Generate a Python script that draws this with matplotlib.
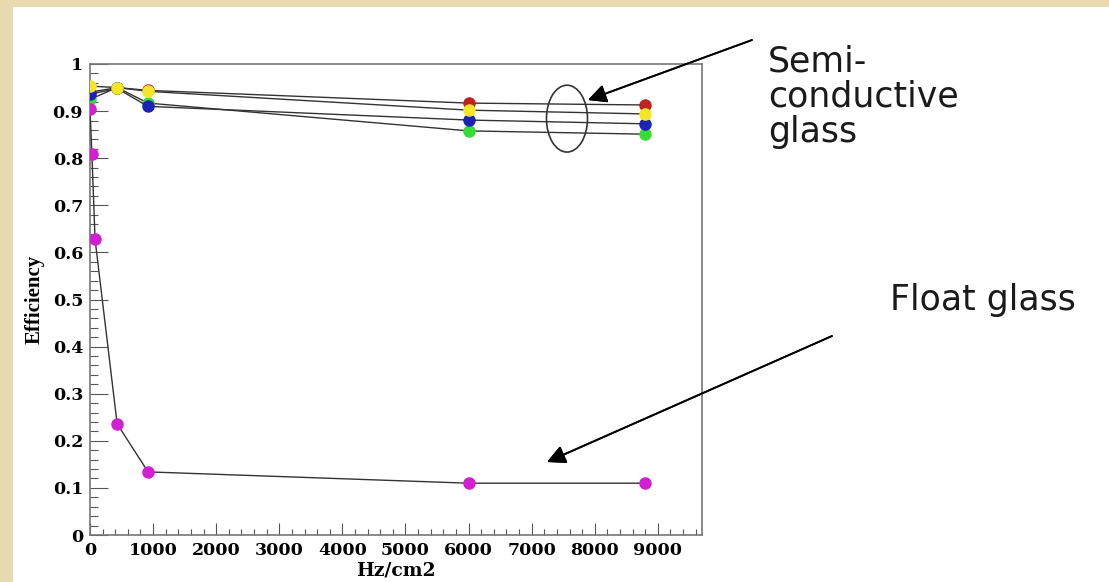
import matplotlib.pyplot as plt
from matplotlib.patches import Ellipse, Rectangle
from matplotlib.ticker import MultipleLocator

# rate (Hz/cm2) and efficiency values
x_semi = [0, 430, 920, 6000, 8800]
eff_red = [0.940, 0.950, 0.944, 0.917, 0.913]
eff_green = [0.925, 0.950, 0.917, 0.858, 0.851]
eff_blue = [0.936, 0.948, 0.910, 0.881, 0.873]
eff_yellow = [0.953, 0.950, 0.942, 0.902, 0.894]

x_float = [0, 30, 80, 430, 920, 6000, 8800]
eff_float = [0.904, 0.809, 0.628, 0.236, 0.134, 0.110, 0.110]

W, H = 1109, 582
fig = plt.figure(figsize=(W / 100, H / 100), dpi=100)
fig.patch.set_facecolor('#e8d9ae')
# white slide panel
fig.add_artist(Rectangle((13 / W, 0), 1, 1 - 7 / H, transform=fig.transFigure,
                         facecolor='white', edgecolor='none', zorder=0))

ax = fig.add_axes([90 / W, 1 - 535 / H, 612 / W, 471 / H])
ax.set_facecolor('white')

series = [(eff_red, '#c0221e'), (eff_green, '#35dd35'),
          (eff_blue, '#1a22b8'), (eff_yellow, '#f2e626')]
for vals, col in series:
    ax.plot(x_semi, vals, color='#333333', lw=1.0, marker='o', ms=8,
            mfc=col, mec=col, zorder=3)
ax.plot(x_float, eff_float, color='#333333', lw=1.0, marker='o', ms=8,
        mfc='#d020d0', mec='#d020d0', zorder=3)

ax.set_xlim(0, 9700)
ax.set_ylim(0, 1)
ax.xaxis.set_major_locator(MultipleLocator(1000))
ax.xaxis.set_minor_locator(MultipleLocator(200))
ax.yaxis.set_minor_locator(MultipleLocator(0.02))
ax.set_yticks([0, 0.1, 0.2, 0.3, 0.4, 0.5, 0.6, 0.7, 0.8, 0.9, 1.0])
ax.set_yticklabels(['0', '0.1', '0.2', '0.3', '0.4', '0.5', '0.6', '0.7',
                    '0.8', '0.9', '1'])

ax.tick_params(axis='both', which='both', direction='in', color='#555555',
               width=0.8, labelsize=12.5)
ax.tick_params(axis='y', which='major', length=13, pad=5)
ax.tick_params(axis='y', which='minor', length=6)
ax.tick_params(axis='x', which='major', length=9, pad=5)
ax.tick_params(axis='x', which='minor', length=4.5)
for lab in ax.get_xticklabels() + ax.get_yticklabels():
    lab.set_family('DejaVu Serif')
    lab.set_fontweight('bold')

for sp in ax.spines.values():
    sp.set_color('#777777')
    sp.set_linewidth(1.2)

ax.set_xlabel('Hz/cm2', family='DejaVu Serif', fontweight='bold',
              fontsize=13.5, labelpad=2)
ax.set_ylabel('Efficiency', family='Liberation Serif', fontweight='bold',
              fontsize=15, labelpad=6)

# ellipse around the semi-conductive curves
ax.add_patch(Ellipse((7560, 0.884), 650, 0.142, fill=False,
                     edgecolor='#333333', lw=1.2, zorder=4))

# annotations in figure pixels
def fpx(x, y):
    return (x / W, 1 - y / H)

fig.text(*fpx(768, 44), 'Semi-\nconductive\nglass', family='DejaVu Sans',
         fontsize=25, va='top', ha='left', linespacing=1.05, color='#1a1a1a')
fig.text(*fpx(890, 300), 'Float glass', family='DejaVu Sans', fontsize=25,
         va='center', ha='left', color='#1a1a1a')

arrow = dict(arrowstyle='-|>', mutation_scale=28, lw=1.3, color='black',
             shrinkA=0, shrinkB=0)
fig.add_artist(plt.annotate('', xy=fpx(588, 100), xytext=fpx(752, 40),
                            xycoords='figure fraction',
                            textcoords='figure fraction', arrowprops=arrow))
fig.add_artist(plt.annotate('', xy=fpx(547, 462), xytext=fpx(832, 336),
                            xycoords='figure fraction',
                            textcoords='figure fraction', arrowprops=arrow))

fig.savefig('out.png', dpi=100, facecolor=fig.get_facecolor())
